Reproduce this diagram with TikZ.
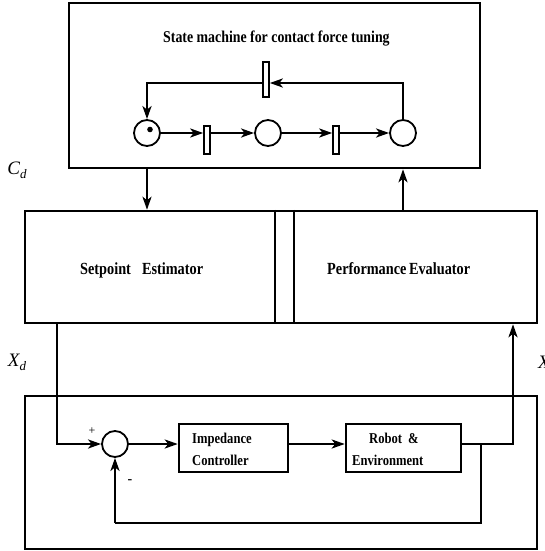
\documentclass[tikz,border=0pt]{standalone}
\usepackage{fontspec}
\setmainfont{Liberation Serif}
\newfontfamily\bfc[FakeStretch=0.84]{Liberation Serif}
\usetikzlibrary{arrows.meta}
\begin{document}
\begin{tikzpicture}[x=1pt,y=-1pt,
  box/.style={draw, line width=2.5pt, inner sep=0pt},
  place/.style={draw, circle, line width=1.8pt, minimum size=26pt, inner sep=0pt},
  trans/.style={draw, rectangle, line width=1.6pt, minimum width=6pt, inner sep=0pt},
  thickline/.style={line width=2.6pt},
  thinline/.style={line width=1.4pt},
  arr/.style={-{Stealth[length=13pt,width=9pt,inset=3.5pt]}},
  lbl/.style={font=\bfc\bfseries\fontsize{17}{20}\selectfont, anchor=base west, inner sep=0pt},
  lbls/.style={font=\bfc\bfseries\fontsize{15}{18}\selectfont, anchor=base west, inner sep=0pt},
  varlbl/.style={font=\itshape\fontsize{19}{22}\selectfont, inner sep=0pt}
]
\useasboundingbox (0,0) rectangle (545,551);
% top box
\node[box, minimum width=411pt, minimum height=165pt] (top) at (274.5,85.5) {};
\node[font=\bfc\bfseries\fontsize{16.5}{20}\selectfont, anchor=base west, inner sep=0pt] (title) at (163,43) {State machine for contact force tuning};
% petri net
\node[place] (p1) at (147,133) {};
\node[place] (p2) at (268,133) {};
\node[place] (p3) at (403,133) {};
\node[trans, minimum height=28pt] (t1) at (207,140) {};
\node[trans, minimum height=28pt] (t2) at (336,140) {};
\node[trans, minimum height=35pt] (t3) at (266,79.5) {};
\fill (150,129.5) circle (2.8pt);
\coordinate (lr) at (403,83);
\coordinate (ll) at (147,83);
\draw[thickline, arr] (p1.east) -- (p1.east -| t1.west);
\draw[thickline, arr] (t1.east |- p2.west) -- (p2.west);
\draw[thickline, arr] (p2.east) -- (p2.east -| t2.west);
\draw[thickline, arr] (t2.east |- p3.west) -- (p3.west);
\draw[thickline, arr] (p3.north) -- (lr) -- (lr -| t3.east);
\draw[thickline, arr] (lr -| t3.west) -- (ll) -- (p1.north);
% middle box
\node[box, minimum width=512pt, minimum height=112pt] (mid) at (281,267) {};
\coordinate (d1) at (275,0);
\coordinate (d2) at (294,0);
\draw[line width=1.6pt] (mid.north -| d1) -- (mid.south -| d1);
\draw[line width=1.6pt] (mid.north -| d2) -- (mid.south -| d2);
\node[lbl] (setp) at (80,274) {Setpoint\hspace{0.65em}Estimator};
\node[lbl] (perf) at (327,274) {Performance\hspace{0.15em}Evaluator};
\draw[thickline, arr] (top.south -| p1) -- (mid.north -| p1);
\draw[thickline, arr] (mid.north -| p3) -- (top.south -| p3);
% labels
\node[varlbl] (cd) at (17,170) {C\raisebox{-0.45ex}{\fontsize{13}{15}\selectfont d}};
\node[varlbl] (xd) at (17,362) {X\raisebox{-0.45ex}{\fontsize{13}{15}\selectfont d}};
\node[varlbl, anchor=west] (xr) at (538,362) {X};
% bottom box
\node[box, minimum width=512pt, minimum height=153pt] (bot) at (281,472.5) {};
\node[place] (sum) at (115,444) {};
\node[box, minimum width=109pt, minimum height=48pt] (imp) at (233.5,448) {};
\node[box, minimum width=115pt, minimum height=48pt] (rob) at (403.5,448) {};
\node[lbls] (imp1) at (192,443) {Impedance};
\node[lbls] (imp2) at (192,465) {Controller};
\node[lbls] (rob1) at (369,443) {Robot\hspace{0.4em}\&};
\node[lbls] (rob2) at (352,465) {Environment};
\node[font=\fontsize{12}{14}\selectfont, inner sep=0pt] (plus) at (92,431) {+};
\node[font=\bfseries\fontsize{14}{14}\selectfont, inner sep=0pt] (minus) at (130,482) {-};
\coordinate (xa) at (57,444);
\coordinate (xb) at (513,444);
\coordinate (fb) at (481,444);
\coordinate (fc) at (481,523);
\coordinate (fd) at (115,523);
\draw[thinline] (mid.south -| xa) -- (bot.north -| xa);
\draw[thickline, arr] (bot.north -| xa) -- (xa) -- (sum.west);
\draw[thickline, arr] (sum.east) -- (sum.east -| imp.west);
\draw[thickline, arr] (imp.east |- sum.east) -- (rob.west |- sum.east);
\draw[line width=1.8pt] (rob.east |- xb) -- (fb);
\draw[thickline, arr] (fb) -- (xb) -- (mid.south -| xb);
\draw[thinline] (fb) -- (fc) -- (fd);
\draw[thickline, arr] (fd) -- (sum.south);
\end{tikzpicture}
\end{document}
